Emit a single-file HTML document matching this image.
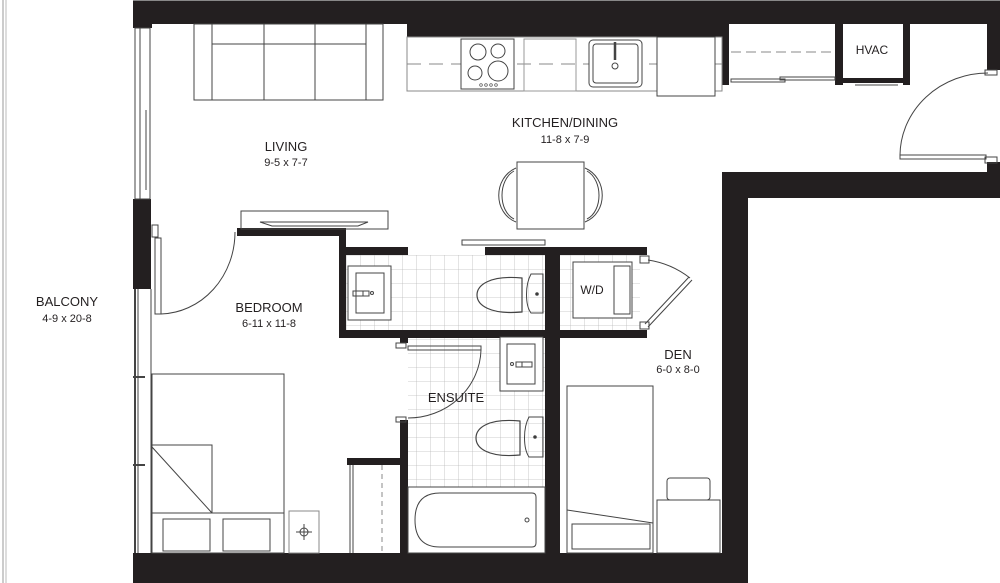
<!DOCTYPE html>
<html><head><meta charset="utf-8"><style>
html,body{margin:0;padding:0;background:#fff;}
svg{display:block;}
text{font-family:"Liberation Sans",sans-serif;fill:#231f20;text-anchor:middle;}
.l{font-size:13px;}
.d{font-size:11px;}
</style></head><body>
<svg width="1000" height="583" viewBox="0 0 1000 583" xmlns="http://www.w3.org/2000/svg">
<defs>
<pattern id="tile" x="346" y="255" width="14" height="14" patternUnits="userSpaceOnUse">
<path d="M0 0H14M0 0V14" stroke="#bbb" stroke-width="0.8" fill="none"/>
</pattern>
</defs>
<rect width="1000" height="583" fill="#fff"/>
<!-- balcony lines -->
<line x1="3" y1="0" x2="3" y2="583" stroke="#999" stroke-width="1"/>
<line x1="6" y1="0" x2="6" y2="583" stroke="#bbb" stroke-width="1"/>
<line x1="133" y1="0.5" x2="1000" y2="0.5" stroke="#888"/>

<!-- tiles -->
<rect x="346" y="255" width="199" height="75" fill="url(#tile)"/>
<rect x="408" y="338" width="137" height="149" fill="url(#tile)"/>
<rect x="560" y="255" width="80" height="75" fill="url(#tile)"/>

<g fill="#231f20">
<!-- outer walls -->
<rect x="133" y="1" width="867" height="23"/>
<rect x="407" y="23" width="316" height="14"/>
<rect x="133" y="1" width="19" height="27"/>
<rect x="133" y="199" width="18" height="90"/>
<rect x="133" y="553" width="615" height="30"/>
<rect x="722" y="172" width="278" height="26"/>
<rect x="722" y="172" width="26" height="411"/>
<rect x="987" y="23" width="13" height="47"/>
<rect x="987" y="162" width="13" height="12"/>
<!-- closet/hvac -->
<rect x="722" y="23" width="7" height="62"/>
<rect x="835" y="23" width="8" height="62"/>
<rect x="903" y="23" width="7" height="62"/>
<rect x="842" y="78" width="62" height="5"/>
<!-- interior -->
<rect x="237" y="228" width="109" height="8"/>
<rect x="339" y="228" width="7" height="110"/>
<rect x="346" y="247" width="62" height="8"/>
<rect x="485" y="247" width="162" height="8"/>
<rect x="339" y="330" width="308" height="8"/>
<rect x="545" y="255" width="15" height="298"/>
<rect x="400" y="420" width="8" height="133"/>
<rect x="400" y="338" width="8" height="5"/>
<rect x="347" y="458" width="53" height="7"/>
<rect x="133" y="289" width="0" height="0"/>
</g>

<g fill="none" stroke="#444" stroke-width="1">
<!-- left window -->
<rect x="135" y="28" width="15" height="171"/>
<line x1="140" y1="28" x2="140" y2="199"/>
<line x1="146" y1="110" x2="146" y2="190"/>
<line x1="135" y1="289" x2="135" y2="553" stroke-width="2"/>
<line x1="138" y1="289" x2="138" y2="553"/>
<line x1="151" y1="289" x2="151" y2="553"/>
<line x1="133" y1="377" x2="145" y2="377" stroke-width="2"/>
<line x1="133" y1="465" x2="145" y2="465" stroke-width="2"/>
<!-- sofa -->
<rect x="194" y="24" width="189" height="76"/>
<rect x="212" y="24" width="154" height="76"/>
<line x1="212" y1="44" x2="366" y2="44"/>
<line x1="264" y1="24" x2="264" y2="100"/>
<line x1="315" y1="24" x2="315" y2="100"/>
<!-- media -->
<rect x="241" y="211" width="147" height="18"/>
<path d="M260 222H368L358 226H272Z"/>
<!-- kitchen -->
<rect x="407" y="37" width="315" height="54" stroke="#888"/>
<line x1="407" y1="64" x2="722" y2="64" stroke="#888" stroke-dasharray="14 8"/>
<rect x="461" y="39" width="53" height="50" fill="#fff"/>
<circle cx="478" cy="52" r="8"/><circle cx="498" cy="51" r="7"/>
<circle cx="475" cy="73" r="7"/><circle cx="498" cy="71" r="10"/>
<g stroke-width="0.7"><circle cx="481" cy="85" r="1.3"/><circle cx="486" cy="85" r="1.3"/><circle cx="491" cy="85" r="1.3"/><circle cx="496" cy="85" r="1.3"/></g>
<rect x="524" y="39" width="52" height="52" stroke="#999"/>
<rect x="589" y="40" width="53" height="47" rx="4" fill="#fff"/>
<rect x="593" y="44" width="45" height="39" rx="3"/>
<line x1="615" y1="42" x2="615" y2="60" stroke-width="2.5"/>
<circle cx="615" cy="66" r="3"/>
<rect x="657" y="37" width="58" height="59" fill="#fff"/>
<!-- closet doors -->
<line x1="731" y1="52" x2="832" y2="52" stroke="#888" stroke-dasharray="10 5"/>
<rect x="731" y="79" width="54" height="3"/>
<rect x="780" y="77" width="55" height="3"/>
<!-- HVAC bottom line -->
<line x1="855" y1="85" x2="898" y2="85"/>
<!-- entry door -->
<rect x="900" y="155" width="86" height="4"/>
<path d="M900 155A88 83 0 0 1 988 73"/>
<rect x="985" y="70" width="12" height="5"/>
<rect x="985" y="157" width="12" height="6"/>
<!-- dining -->
<rect x="517" y="162" width="67" height="67"/>
<path d="M516 168C493 178 493 213 516 222M514 171C498 180 498 211 514 219"/>
<path d="M585 168C608 178 608 213 585 222M587 171C603 180 603 211 587 219"/>
<rect x="462" y="240" width="83" height="5"/>
<!-- bedroom door -->
<rect x="155" y="238" width="6" height="76"/>
<path d="M161 314A76 82 0 0 0 235 232"/>
<rect x="152" y="225" width="6" height="12"/>
<!-- bath upper -->
<rect x="348" y="266" width="43" height="54" fill="#fff"/>
<rect x="356" y="273" width="28" height="40"/>
<rect x="353" y="291" width="10" height="5"/><rect x="363" y="291" width="6" height="5"/><circle cx="372" cy="293" r="1.5"/>
<path d="M522 278C490 275 477 285 477 295C477 305 490 315 522 312Z" stroke-width="1.2"/>
<path d="M531 274C525 285 525 305 531 313L543 313L543 274Z" stroke-width="1"/>
<circle cx="537" cy="294" r="1.3" fill="#333"/>
<!-- W/D -->
<rect x="573" y="262" width="59" height="56" fill="#fff"/>
<rect x="614" y="266" width="16" height="48"/>
<rect x="640" y="256" width="9" height="7"/>
<rect x="640" y="322" width="9" height="7"/>
<path d="M648 260A90 90 0 0 1 690 278"/>
<path d="M689 277L645 324M692 280L648 327"/>
<!-- ensuite -->
<rect x="500" y="337" width="43" height="54" fill="#fff"/>
<rect x="507" y="344" width="28" height="40"/>
<rect x="522" y="362" width="10" height="5"/><rect x="516" y="362" width="6" height="5"/><circle cx="512" cy="364" r="1.5"/>
<rect x="408" y="346" width="73" height="4"/>
<path d="M481 350A73 70 0 0 1 408 418"/>
<rect x="396" y="343" width="10" height="5"/>
<rect x="396" y="417" width="10" height="5"/>
<path d="M520 421C488 418 476 428 476 438C476 448 488 458 520 455Z" stroke-width="1.2"/>
<path d="M529 417C523 428 523 448 529 457L543 457L543 417Z"/>
<circle cx="535" cy="437" r="1.3" fill="#333"/>
<rect x="408" y="487" width="137" height="66" fill="#fff"/>
<path d="M440 493H532Q536 493 536 497V543Q536 547 532 547H440Q415 547 415 520Q415 493 440 493Z"/>
<circle cx="527" cy="520" r="2"/>
<!-- closet bedroom -->
<line x1="350" y1="465" x2="350" y2="553"/>
<line x1="353" y1="465" x2="353" y2="553"/>
<line x1="382" y1="465" x2="382" y2="553" stroke-dasharray="5 4" stroke="#888"/>
<!-- bedroom bed -->
<rect x="152" y="374" width="132" height="179"/>
<line x1="284" y1="375" x2="284" y2="553"/>
<rect x="152" y="445" width="60" height="68"/>
<line x1="152" y1="447" x2="212" y2="513"/>
<line x1="152" y1="513" x2="284" y2="513"/>
<rect x="163" y="519" width="47" height="32"/>
<rect x="223" y="519" width="47" height="32"/>
<rect x="289" y="511" width="30" height="42" stroke="#888"/>
<circle cx="304" cy="532" r="4"/>
<line x1="296" y1="532" x2="312" y2="532"/><line x1="304" y1="524" x2="304" y2="540"/>
<!-- den -->
<rect x="567" y="386" width="86" height="167"/>
<line x1="567" y1="510" x2="653" y2="523"/>
<rect x="572" y="524" width="78" height="25"/>
<rect x="657" y="500" width="63" height="53"/>
<rect x="667" y="478" width="43" height="22" rx="3"/>
</g>

<text class="l" x="286" y="151">LIVING</text>
<text class="d" x="286" y="166">9-5 x 7-7</text>
<text class="l" x="565" y="127">KITCHEN/DINING</text>
<text class="d" x="565" y="143">11-8 x 7-9</text>
<text class="l" x="67" y="306">BALCONY</text>
<text class="d" x="67" y="322">4-9 x 20-8</text>
<text class="l" x="269" y="312">BEDROOM</text>
<text class="d" x="269" y="327">6-11 x 11-8</text>
<text class="l" x="456" y="402">ENSUITE</text>
<text class="l" x="678" y="359">DEN</text>
<text class="d" x="678" y="373">6-0 x 8-0</text>
<text class="d" x="592" y="294" style="font-size:12px">W/D</text>
<text class="d" x="872" y="54" style="font-size:12px">HVAC</text>
</svg>
</body></html>
